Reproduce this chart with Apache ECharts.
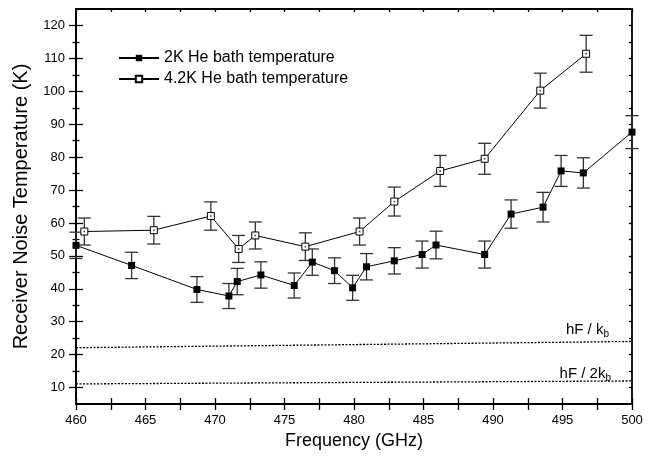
<!DOCTYPE html>
<html>
<head>
<meta charset="utf-8">
<script src="https://cdn.jsdelivr.net/npm/echarts@6/dist/echarts.min.js"></script>
<style>html,body{margin:0;padding:0;background:#fff}#c{width:660px;height:460px}</style>
</head>
<body>
<div id="c"></div>
<script>
// ---- data ----
const freq2K = [460, 464.0, 468.7, 471.0, 471.6, 473.3, 475.7, 477.0, 478.6, 479.9, 480.9, 482.9, 484.9, 485.9, 489.4, 491.3, 493.6, 494.9, 496.5, 500];
const temp2K = [53.2, 47.1, 39.8, 37.8, 42.2, 44.2, 41.0, 48.1, 45.5, 40.3, 46.7, 48.5, 50.4, 53.3, 50.4, 62.7, 64.8, 75.8, 75.2, 87.6];
const err2K  = [4.0, 4.0, 3.9, 3.8, 4.0, 4.0, 3.8, 4.0, 3.9, 3.8, 4.0, 4.0, 4.1, 4.2, 4.1, 4.3, 4.5, 4.7, 4.6, 5.0];

const freq42 = [460.6, 465.6, 469.7, 471.7, 472.9, 476.5, 480.4, 482.9, 486.2, 489.4, 493.4, 496.7];
const temp42 = [57.4, 57.8, 62.1, 52.1, 56.2, 52.8, 57.4, 66.5, 75.8, 79.5, 100.2, 111.4];
const err42  = [4.1, 4.2, 4.3, 4.1, 4.1, 4.2, 4.1, 4.4, 4.7, 4.7, 5.3, 5.6];

const hfFreq = [460, 500];
const hfK    = [22.1, 24.0];
const hf2K   = [11.1, 12.0];

const xTicks = [460, 462.5, 465, 467.5, 470, 472.5, 475, 477.5, 480, 482.5, 485, 487.5, 490, 492.5, 495, 497.5, 500];
const yMajor = [10, 20, 30, 40, 50, 60, 70, 80, 90, 100, 110, 120];
const yMinor = [15, 25, 35, 45, 55, 65, 75, 85, 95, 105, 115];
const yRight = [10, 15, 20, 25, 30, 35, 40, 45, 50, 55, 60, 65, 70, 75, 80, 85, 90, 95, 100, 105, 110, 115, 120];

const name2K = '2K He bath temperature';
const name42 = '4.2K He bath temperature';

// ---- build ----
const zip = (a, b) => a.map((v, i) => [v, b[i]]);
const errData = (f, t, e) => f.map((v, i) => [v, t[i] - e[i], t[i] + e[i]]);
const FONT = '"Liberation Sans", Arial, sans-serif';
const AX = {color: '#000', width: 1.8};
const TK = {color: '#000', width: 1.3};

function errorRender(params, api) {
  const x = api.value(0);
  const lo = api.coord([x, api.value(1)]);
  const hi = api.coord([x, api.value(2)]);
  const hw = 6.5;
  const st = {stroke: '#333', lineWidth: 1.3, fill: null};
  return {type: 'group', children: [
    {type: 'line', shape: {x1: lo[0], y1: lo[1], x2: hi[0], y2: hi[1]}, style: st},
    {type: 'line', shape: {x1: lo[0] - hw, y1: lo[1], x2: lo[0] + hw, y2: lo[1]}, style: st},
    {type: 'line', shape: {x1: hi[0] - hw, y1: hi[1], x2: hi[0] + hw, y2: hi[1]}, style: st}
  ]};
}

const baseY = {type: 'value', min: 5, max: 125, splitLine: {show: false}};
const baseX = {type: 'value', min: 460, max: 500, splitLine: {show: false}};
const subRich = (main) => ({
  a: {fontFamily: FONT, fontSize: 15, color: '#000'},
  b: {fontFamily: FONT, fontSize: 10, color: '#000', verticalAlign: 'bottom', padding: [9, 0, 0, 0]}
});

const option = {
  animation: false,
  backgroundColor: '#fff',
  textStyle: {fontFamily: FONT, color: '#000'},
  grid: {left: 76, right: 28, top: 9, bottom: 56},
  legend: {
    orient: 'vertical', left: 118, top: 50, padding: 0, itemWidth: 40, itemHeight: 8, itemGap: 5,
    textStyle: {fontFamily: FONT, fontSize: 16, color: '#000'},
    data: [name2K, name42]
  },
  xAxis: [
    Object.assign({}, baseX, {
      position: 'bottom', interval: 5,
      axisLine: {lineStyle: AX},
      axisTick: {show: true, inside: false, length: 6, lineStyle: TK, customValues: xTicks},
      axisLabel: {color: '#000', fontFamily: FONT, fontSize: 13, margin: 10},
      name: 'Frequency (GHz)', nameLocation: 'middle', nameGap: 26,
      nameTextStyle: {fontFamily: FONT, fontSize: 18, color: '#000'}
    }),
    Object.assign({}, baseX, {
      position: 'bottom', interval: 5,
      axisLine: {lineStyle: AX},
      axisTick: {show: true, inside: true, length: 6, lineStyle: TK, customValues: xTicks},
      axisLabel: {show: false}
    }),
    Object.assign({}, baseX, {
      position: 'top', interval: 5,
      axisLine: {lineStyle: AX},
      axisTick: {show: true, inside: true, length: 3, lineStyle: TK, customValues: xTicks},
      axisLabel: {show: false}
    })
  ],
  yAxis: [
    Object.assign({}, baseY, {
      position: 'left',
      axisLine: {lineStyle: AX},
      axisTick: {show: true, inside: false, length: 7, lineStyle: TK, customValues: yMajor},
      axisLabel: {color: '#000', fontFamily: FONT, fontSize: 13, margin: 11, customValues: yMajor},
      name: 'Receiver Noise Temperature (K)', nameLocation: 'middle', nameGap: 45,
      nameTextStyle: {fontFamily: FONT, fontSize: 20, color: '#000'}
    }),
    Object.assign({}, baseY, {
      position: 'left',
      axisLine: {lineStyle: AX},
      axisTick: {show: true, inside: true, length: 7, lineStyle: TK, customValues: yMajor},
      axisLabel: {show: false}
    }),
    Object.assign({}, baseY, {
      position: 'left',
      axisLine: {show: false},
      axisTick: {show: true, inside: false, length: 3.5, lineStyle: TK, customValues: yMinor},
      axisLabel: {show: false}
    }),
    Object.assign({}, baseY, {
      position: 'left',
      axisLine: {show: false},
      axisTick: {show: true, inside: true, length: 3.5, lineStyle: TK, customValues: yMinor},
      axisLabel: {show: false}
    }),
    Object.assign({}, baseY, {
      position: 'right',
      axisLine: {lineStyle: AX},
      axisTick: {show: true, inside: true, length: 3, lineStyle: TK, customValues: yRight},
      axisLabel: {show: false}
    })
  ],
  series: [
    {
      type: 'custom', name: 'err2K', renderItem: errorRender, z: 1,
      encode: {x: 0, y: [1, 2]}, data: errData(freq2K, temp2K, err2K), silent: true
    },
    {
      type: 'custom', name: 'err42', renderItem: errorRender, z: 1,
      encode: {x: 0, y: [1, 2]}, data: errData(freq42, temp42, err42), silent: true
    },
    {
      type: 'line', name: name2K, data: zip(freq2K, temp2K), z: 3,
      symbol: 'rect', symbolSize: 7,
      itemStyle: {color: '#000'},
      lineStyle: {color: '#000', width: 1}
    },
    {
      type: 'line', name: name42, data: zip(freq42, temp42), z: 3,
      symbol: 'rect', symbolSize: 7,
      itemStyle: {color: '#fff', borderColor: '#000', borderWidth: 1},
      lineStyle: {color: '#000', width: 1}
    },
    {
      type: 'scatter', name: 'dot42', data: zip(freq42, temp42), z: 4,
      symbol: 'rect', symbolSize: 1.5, itemStyle: {color: '#000'}, silent: true
    },
    {
      type: 'line', name: 'hFk', data: zip(hfFreq, hfK), symbol: 'none', z: 2,
      lineStyle: {color: '#000', width: 1.3, type: [2, 1.5]},
      silent: true,
      markPoint: {
        symbol: 'circle', symbolSize: 0, silent: true,
        data: [{coord: [hfFreq[1], hfK[1]],
          label: {show: true, position: 'top', align: 'right', offset: [-23, 3],
            formatter: '{a|hF / k}{b|b}', rich: subRich()}
        }]
      }
    },
    {
      type: 'line', name: 'hF2k', data: zip(hfFreq, hf2K), symbol: 'none', z: 2,
      lineStyle: {color: '#000', width: 1.3, type: [2, 1.5]},
      silent: true,
      markPoint: {
        symbol: 'circle', symbolSize: 0, silent: true,
        data: [{coord: [hfFreq[1], hf2K[1]],
          label: {show: true, position: 'top', align: 'right', offset: [-21, 7],
            formatter: '{a|hF / 2k}{b|b}', rich: subRich()}
        }]
      }
    }
  ]
};

const chart = echarts.init(document.getElementById('c'), null, {renderer: 'canvas'});
chart.setOption(option);
</script>
</body>
</html>
